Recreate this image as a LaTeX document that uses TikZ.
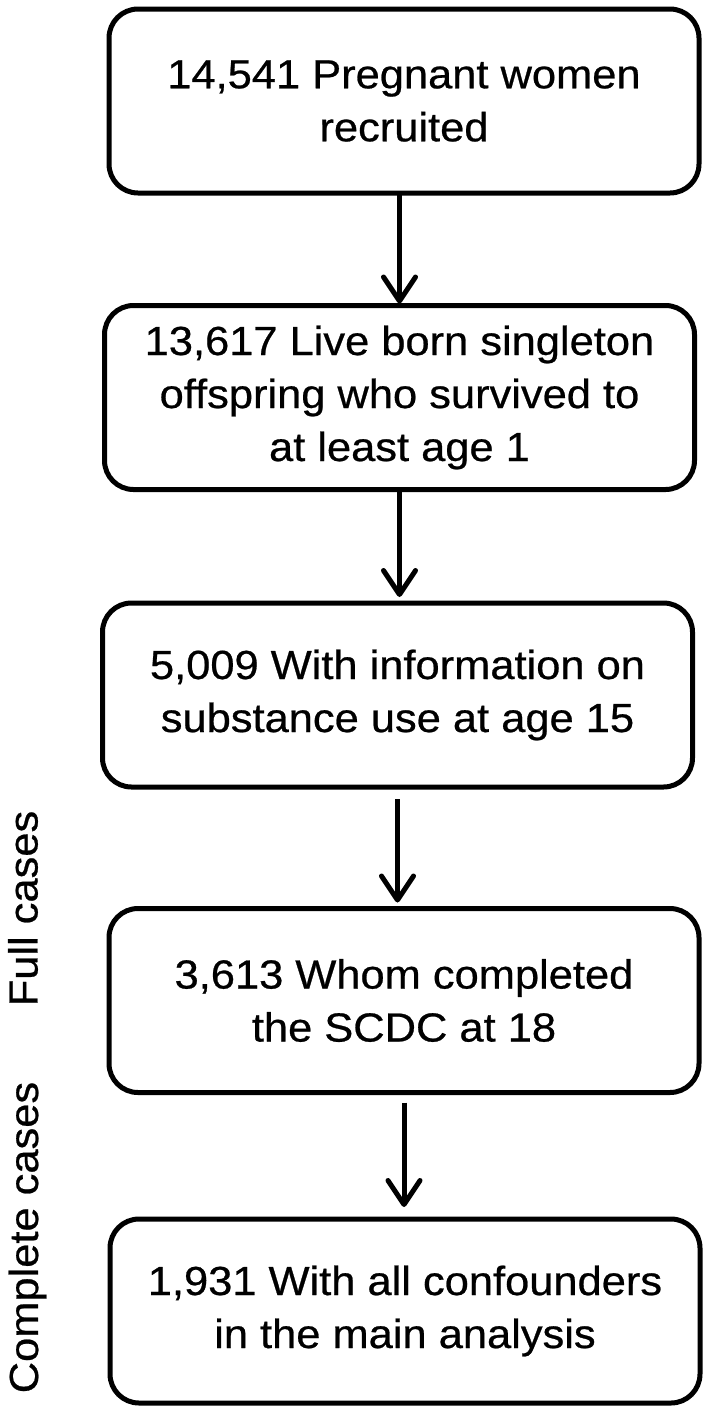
\documentclass[tikz,border=0pt]{standalone}
\usepackage{fontspec}
\setmainfont{Liberation Sans}[FakeStretch=1.07,FakeBold=0.6]
\usetikzlibrary{arrows.meta,positioning}

\begin{document}
\begin{tikzpicture}[x=0.5pt,y=-0.5pt,
    stage/.style={draw,line width=2.5pt,rounded corners=14.5pt,
      minimum width=295pt,minimum height=92pt,inner sep=0pt,outer sep=0pt,
      align=center,font=\fontsize{20.3pt}{26.5pt}\selectfont},
    flow/.style={line width=2.5pt,-{Straight Barb[length=12pt,width=16pt,round]}},
    side/.style={rotate=90,anchor=base,font=\fontsize{20.3pt}{26.5pt}\selectfont}]
  \useasboundingbox (0,0) rectangle (708,1415);
  % boxes
  \node (recruited) [stage] at (404,101) {14,541 Pregnant women\\recruited};
  \node (born) [stage,below=56.25pt of recruited,xshift=-2.25pt]
    {13,617 Live born singleton\\offspring who survived to\\at least age 1};
  \node (substance) [stage,below=56.75pt of born,xshift=-1pt]
    {5,009 With information on\\substance use at age 15};
  \node (scdc) [stage,below=60.75pt of substance,xshift=3.25pt]
    {3,613 Whom completed\\the SCDC at 18};
  \node (confound) [stage,below=63.25pt of scdc,xshift=0.5pt]
    {1,931 With all confounders\\in the main analysis};
  % side labels
  \node (full) [side] at (37.5,908.5) {Full cases};
  \node (complete) [side] at (38,1237.5) {Complete cases};
  % arrows
  \draw[flow,shorten >=1pt] (born.north |- recruited.south) -- (born.north);
  \draw[flow,shorten >=3pt] (born.south) -- (born.south |- substance.north);
  \draw[flow,shorten <=6pt,shorten >=3pt] (substance.south) -- (substance.south |- scdc.north);
  \draw[flow,shorten <=5pt,shorten >=6pt] (scdc.south) -- (scdc.south |- confound.north);
\end{tikzpicture}
\end{document}
